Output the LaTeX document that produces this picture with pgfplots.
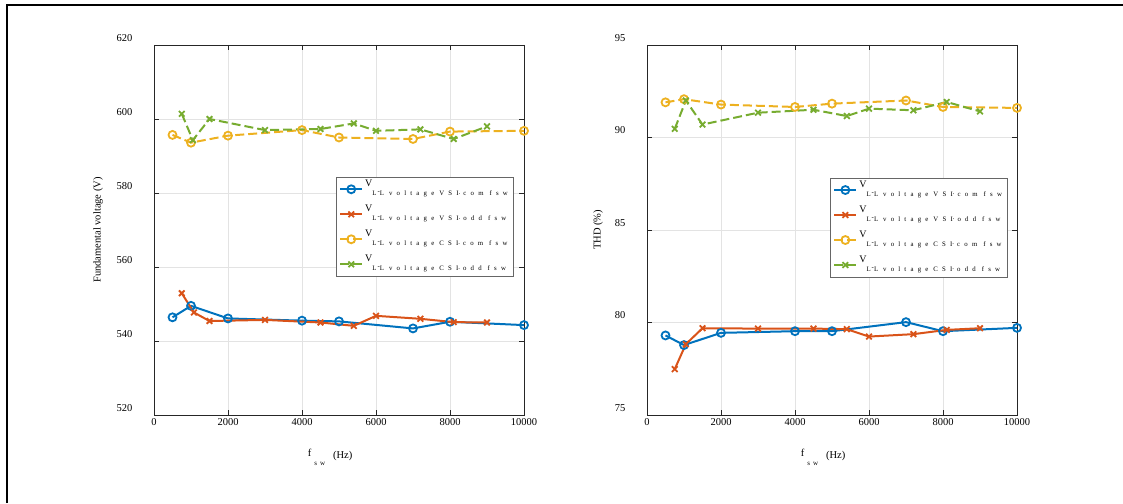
\documentclass[border=0pt]{standalone}
\usepackage{pgfplots}
\pgfplotsset{compat=1.18}
\usepackage{fontspec}
\setmainfont{Liberation Serif}
\definecolor{mblue}{rgb}{0,0.447,0.741}
\definecolor{mred}{rgb}{0.85,0.325,0.098}
\definecolor{myellow}{rgb}{0.929,0.694,0.125}
\definecolor{mgreen}{rgb}{0.466,0.674,0.188}
\newcommand{\lgd}[2]{\raisebox{2pt}{V}\raisebox{-7pt}{\fontsize{6.8}{6.8}\selectfont\addfontfeature{LetterSpace=62}L\hspace{1pt}\raisebox{0.6ex}{-}L\hspace{5pt}voltage\hspace{5pt}#1\raisebox{0.4ex}{.}\hspace{3pt}#2\hspace{6pt}fsw}}
\newcommand{\fsw}{f\raisebox{-9pt}{\hspace{3pt}\fontsize{7}{7}\selectfont s\hspace{3pt}w}\hspace{8pt}\raisebox{-2pt}{(Hz)}}
\pgfplotsset{mystyle/.style={
  scale only axis, width=370pt, height=370pt,
  xmin=0, xmax=10000, xtick={0,2000,...,10000},
  scaled x ticks=false,
  grid=major, grid style={gray!22, line width=0.6pt},
  axis line style={black!85, line width=0.8pt},
  tick style={black!85, line width=0.8pt},
  major tick length=5pt,
  /pgf/number format/assume math mode=true,
  /pgf/number format/set thousands separator={},
  tick label style={font=\fontsize{10.5}{12}\selectfont},
  label style={font=\fontsize{10.5}{12}\selectfont},
  yticklabel style={xshift=-18pt,yshift=7pt},
  xlabel style={at={(axis description cs:0.476,-0.114)},anchor=center},
  legend cell align=left,
  legend style={anchor=north west, draw=black!60, fill=white,
     font=\fontsize{10}{12}\selectfont, row sep=5pt, inner xsep=3pt, inner ysep=2pt,
     nodes={text height=8pt, text depth=10pt, inner ysep=1pt}},
  legend image code/.code={\draw[mark repeat=2,mark phase=2,##1] plot coordinates {(0pt,0pt)(11pt,0pt)(22pt,0pt)};},
  every axis plot/.append style={line width=2pt, mark size=4pt, mark options={solid, line width=1.8pt}},
}}
\begin{document}
\begin{tikzpicture}[x=1pt,y=1pt]
\useasboundingbox (0,0) rectangle (1123,503);
\draw[line width=2.5pt] (7,0) -- (7,498) -- (1123,498);
\begin{axis}[mystyle, at={(154pt,88pt)}, anchor=south west,
  ymin=520, ymax=620, ytick={520,540,...,620},
  ylabel={Fundamental voltage (V)},
  ylabel style={at={(axis description cs:-0.151,0.5)},anchor=center},
  xlabel={\fsw},
  legend style={at={(0.492,0.643)}}]
\addplot[color=mblue, mark=o] coordinates {(500,546.4)(1000,549.5)(2000,546.1)(4000,545.5)(5000,545.3)(7000,543.4)(8000,545.2)(10000,544.3)};
\addlegendentry{\lgd{VSI}{com}}
\addplot[color=mred, mark=x] coordinates {(750,552.9)(1080,547.7)(1500,545.4)(3000,545.7)(4500,545.0)(5400,544.1)(6000,546.8)(7200,546.0)(8100,545.1)(9000,545.0)};
\addlegendentry{\lgd{VSI}{odd}}
\addplot[color=myellow, mark=o, dash pattern=on 9pt off 4pt] coordinates {(500,595.7)(1000,593.6)(2000,595.5)(4000,597.0)(5000,595.0)(7000,594.6)(8000,596.6)(10000,596.8)};
\addlegendentry{\lgd{CSI}{com}}
\addplot[color=mgreen, mark=x, dash pattern=on 9pt off 4pt] coordinates {(750,601.4)(1050,594.3)(1500,600.0)(3000,597.0)(4500,597.3)(5400,598.8)(6000,596.8)(7200,597.2)(8100,594.6)(9000,598.0)};
\addlegendentry{\lgd{CSI}{odd}}
\end{axis}
\begin{axis}[mystyle, at={(647pt,88pt)}, anchor=south west,
  ymin=75, ymax=95, ytick={75,80,...,95},
  ylabel={THD (\%)},
  ylabel style={at={(axis description cs:-0.132,0.5)},anchor=center},
  xlabel={\fsw},
  legend style={at={(0.495,0.641)}}]
\addplot[color=mblue, mark=o] coordinates {(500,79.3)(1000,78.78)(2000,79.44)(4000,79.53)(5000,79.53)(7000,80.02)(8000,79.53)(10000,79.71)};
\addlegendentry{\lgd{VSI}{com}}
\addplot[color=mred, mark=x] coordinates {(750,77.48)(1050,78.83)(1500,79.69)(3000,79.67)(4500,79.67)(5400,79.64)(6000,79.24)(7200,79.37)(8100,79.6)(9000,79.69)};
\addlegendentry{\lgd{VSI}{odd}}
\addplot[color=myellow, mark=o, dash pattern=on 9pt off 4pt] coordinates {(500,91.9)(1000,92.07)(2000,91.78)(4000,91.65)(5000,91.83)(7000,92.0)(8000,91.65)(10000,91.6)};
\addlegendentry{\lgd{CSI}{com}}
\addplot[color=mgreen, mark=x, dash pattern=on 9pt off 4pt] coordinates {(750,90.47)(1050,92.0)(1500,90.7)(3000,91.34)(4500,91.5)(5400,91.16)(6000,91.56)(7200,91.47)(8100,91.92)(9000,91.41)};
\addlegendentry{\lgd{CSI}{odd}}
\end{axis}
\end{tikzpicture}
\end{document}
